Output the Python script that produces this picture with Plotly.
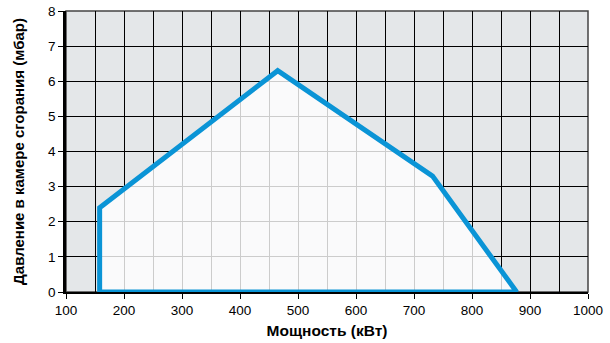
import plotly.graph_objects as go

power_kw = [158, 158, 465, 732, 877, 158]
pressure_mbar = [0, 2.4, 6.3, 3.3, 0, 0]
x_ticks = [100, 200, 300, 400, 500, 600, 700, 800, 900, 1000]
y_ticks = [0, 1, 2, 3, 4, 5, 6, 7, 8]

fig = go.Figure()
fig.add_trace(go.Scatter(
    x=power_kw, y=pressure_mbar, mode="lines",
    fill="toself", fillcolor="rgba(255,255,255,0.8)",
    line=dict(color="#0a94d6", width=5), line_shape="linear",
    hoverinfo="skip", showlegend=False, cliponaxis=False,
))

fig.update_layout(
    width=610, height=343,
    margin=dict(l=66, r=22, t=11, b=51),
    paper_bgcolor="white", plot_bgcolor="#e4e7e9",
    font=dict(family="Liberation Sans, Arial", size=13, color="black"),
)
fig.update_xaxes(
    range=[100, 1000], tickvals=x_ticks, ticks="outside", ticklen=5, tickcolor="black",
    showgrid=True, gridcolor="black", gridwidth=1.3,
    minor=dict(dtick=50, tick0=100, showgrid=True, gridcolor="black", gridwidth=1.3),
    showline=True, linecolor="black", linewidth=2, mirror=False,
    zeroline=False, tickfont=dict(size=13.5), automargin=False,
    title=dict(text="<b>Мощность (кВт)</b>", font=dict(family="Liberation Sans Narrow, Liberation Sans", size=15.5), standoff=8),
)
fig.update_yaxes(
    range=[0, 8], tickvals=y_ticks, ticks="outside", ticklen=5, tickcolor="black",
    showgrid=True, gridcolor="black", gridwidth=1.3,
    showline=True, linecolor="black", linewidth=2.5,
    zeroline=False, tickfont=dict(size=13.5), automargin=False,
    title=dict(text="<b>Давление в камере сгорания (мбар)</b>", font=dict(family="Liberation Sans Narrow, Liberation Sans", size=15), standoff=20),
)
fig.add_shape(type="rect", xref="paper", yref="paper", x0=0, y0=0, x1=1, y1=1,
              line=dict(color="#444", width=1.5), layer="below")

fig.write_html("out.html", config={"displayModeBar": False},
               post_script="document.body.style.margin='0';document.body.style.overflow='hidden';")
